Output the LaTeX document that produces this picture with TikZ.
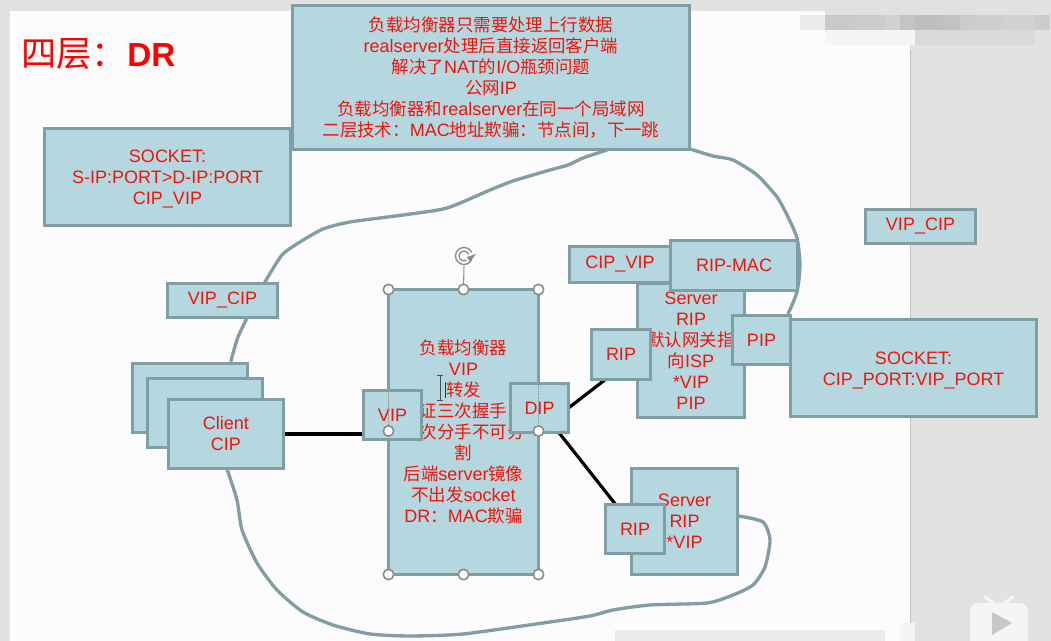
\documentclass[tikz,border=0pt]{standalone}
\usepackage{fontspec}
\setmainfont{Liberation Sans}
\newfontfamily\cjk[Scale=0.97]{Noto Sans CJK SC}
\newfontfamily\cjktitle{Noto Sans CJK SC}
\newcommand{\zh}[1]{{\cjk #1}}
\newcommand{\lowr}{\rule{0pt}{13pt}}
\pgfdeclarelayer{base}
\pgfdeclarelayer{lines}
\pgfsetlayers{base,lines,main}
\definecolor{boxfill}{HTML}{B5D7E0}
\definecolor{boxline}{HTML}{829EA5}
\definecolor{redtext}{HTML}{F2140A}
\definecolor{pagegrey}{HTML}{E2E2E0}
\definecolor{handle}{HTML}{8C8C8C}
\tikzset{
  boxx/.style={draw=boxline,fill=boxfill,line width=2.6pt,inner sep=0pt,outer sep=0pt,
    text=redtext,align=center,font=\fontsize{13.5}{15.75}\selectfont},
  freehand/.style={draw=boxline,line width=2.5pt,line join=round,line cap=round},
  link/.style={draw=black,line width=2.4pt},
  grip/.style={circle,draw=handle,fill=white,line width=1.2pt,minimum size=7.8pt,inner sep=0pt},
  guide/.style={draw=handle,line width=0.4pt,densely dotted},
}
% name, x0, y0, x1, y1, text (reference pixels, stroke outer edges)
\newcommand{\bx}[6]{%
  \pgfmathsetmacro\bw{(#4-#2-3)*0.75}%
  \pgfmathsetmacro\bh{(#5-#3-3)*0.75}%
  \node[boxx,minimum width=\bw pt,minimum height=\bh pt] (#1) at ({(#2+#4)/2},{(#3+#5)/2}) {#6};%
}
\begin{document}
\begin{tikzpicture}[x=0.75pt,y=-0.75pt]
\useasboundingbox (0,0) rectangle (1051,641);
\begin{pgfonlayer}{base}
  \fill[pagegrey] (0,0) rectangle (1051,641);
  \fill[black!1!white] (10,11) rectangle (910,641);
  \draw[black!26!white,line width=0.7pt] (910,50) -- (910,641);
  % blurred regions
  \fill[black!12!white] (825,3) rectangle (1035,15);
  \fill[black!8!white] (800,15) rectangle (825,30);
  \foreach \p [count=\i from 0] in {21,21,20,20,18,23,26,25,24,20,19,19,18,18,20}
    \fill[black!\p!white] ({825+15*\i},15) rectangle ({840+15*\i},30);
  \fill[black!4!white] (825,30) rectangle (915,45);
  \fill[black!15!white] (915,30) rectangle (1035,45);
  \fill[black!8!white] (615,630) rectangle (885,641);
  \fill[black!4!white] (900,623) rectangle (915,641);
  % player badge
  \fill[black!4!white,rounded corners=6pt] (970,603) rectangle (1028,650);
  \draw[black!4!white,line width=2.2pt,line cap=round] (985,597) -- (995,604) (1013,597) -- (1003,604);
  \fill[black!22!white] (992,612) -- (1012,623) -- (992,635) -- cycle;
\end{pgfonlayer}

% title
\node[anchor=west,text=red,inner sep=0pt,font=\fontsize{25}{30}\selectfont] (title) at (21,54)
  {{\cjktitle\fontsize{26.5}{30}\selectfont 四层：}\textbf{DR}};

% boxes
\bx{sockl}{43}{127}{292}{227}{\lowr SOCKET:\\S-IP:PORT>D-IP:PORT\\CIP\_VIP}
\bx{top}{291}{4}{691}{151}{\zh{负载均衡器只需要处理上行数据}\\realserver\zh{处理后直接返回客户端}\\\zh{解决了}NAT\zh{的}I/O\zh{瓶颈问题}\\\zh{公网}IP\\\zh{负载均衡器和}realserver\zh{在同一个局域网}\\\zh{二层技术：}MAC\zh{地址欺骗：节点间，下一跳}}
\bx{vipcipr}{864}{208}{977}{245}{VIP\_CIP}
\bx{vipcipl}{166}{282}{279}{319}{VIP\_CIP}
\bx{cla}{131}{362}{249}{434}{}
\bx{clb}{146}{377}{264}{449}{}
\bx{clc}{167}{398}{285}{470}{Client\\CIP}
\bx{lb}{387}{288}{540}{576}{\zh{负载均衡器}\\VIP\\\zh{转发}\\\zh{\phantom{保}证三次握手\phantom{，}}\\\zh{\phantom{四}次分手不可分}\\\zh{割}\\\zh{后端}server\zh{镜像}\\\zh{不出发}socket\\DR\zh{：}MAC\zh{欺骗}}
\bx{vip}{362}{389}{423}{441}{VIP}
\bx{dip}{509}{382}{570}{434}{DIP}
\bx{srva}{636}{282}{746}{419}{Server\\RIP\\\zh{默认网关指}\\\zh{向}ISP\\*VIP\\PIP}
\bx{cipvip}{568}{245}{672}{284}{CIP\_VIP}
\bx{ripmac}{669}{239}{799}{292}{RIP-MAC}
\bx{ripa}{590}{328}{652}{381}{RIP}
\bx{pip}{731}{314}{792}{366}{PIP}
\bx{sockr}{789}{318}{1038}{418}{\lowr SOCKET:\\CIP\_PORT:VIP\_PORT}
\bx{srvb}{630}{467}{739}{576}{Server\\RIP\\*VIP}
\bx{ripb}{604}{503}{666}{555}{RIP}

% connectors under the boxes
\begin{pgfonlayer}{lines}
  \draw[link] (clc.east) -- (clc.east -| vip.west);
  \draw[link] (dip.east) -- (ripa.238);
  \draw[link] (dip) -- (ripb);
  \draw[freehand] plot[smooth,tension=0.4] coordinates {(231,361) (238,337) (252,308) (265,282) (282,255) (300,242) (323,229) (350,222) (403,215) (447,208) (490,190) (513,181) (550,170) (568,165) (583,158) (607,150)};
  \draw[freehand] plot[smooth,tension=0.4] coordinates {(690,149) (713,156) (733,160) (757,175) (777,197) (788,217) (797,238) (800,265) (797,292) (788,314)};
  \draw[freehand] plot[smooth,tension=0.4] coordinates {(227,469) (237,500) (242,530) (257,563) (277,590) (303,612) (333,625) (370,634) (410,636) (463,634) (543,623) (590,616) (613,610) (650,605) (707,603) (733,595) (753,585) (765,567) (770,540) (763,522) (739,516)};
\end{pgfonlayer}

% selection handles of the load balancer box
\coordinate (gripl) at (lb.west |- 0,431);
\coordinate (gripr) at (lb.east |- 0,431);
\coordinate (rotc) at (464,256);
\draw[guide] (lb.west |- vip.north) -- (gripl);
\draw[guide] (lb.east |- dip.north) -- (gripr);
\draw[draw=handle,line width=0.8pt] (lb.north) -- (rotc |- 0,266);
\draw[draw=handle,line width=1pt] (rotc) ++(25:8.5) arc[start angle=25,end angle=335,radius=8.5];
\draw[draw=handle,line width=1pt] (rotc) ++(60:5) arc[start angle=60,end angle=340,radius=5];
\fill[handle] (467,257) -- (476,254) -- (470,262) -- cycle;
\foreach \g/\a in {ga/lb.north west,gb/lb.north,gc/lb.north east,gd/lb.south west,ge/lb.south,gf/lb.south east,gg/gripl,gh/gripr}
  \node[grip] (\g) at (\a) {};

% text cursors
\draw[black!70!white,line width=0.6pt] (440,375) -- (440,400) (437,375) -- (443,375) (437,400) -- (443,400);
\draw[black!80!white,line width=0.6pt] (445,382) -- (445,398);
\end{tikzpicture}
\end{document}
